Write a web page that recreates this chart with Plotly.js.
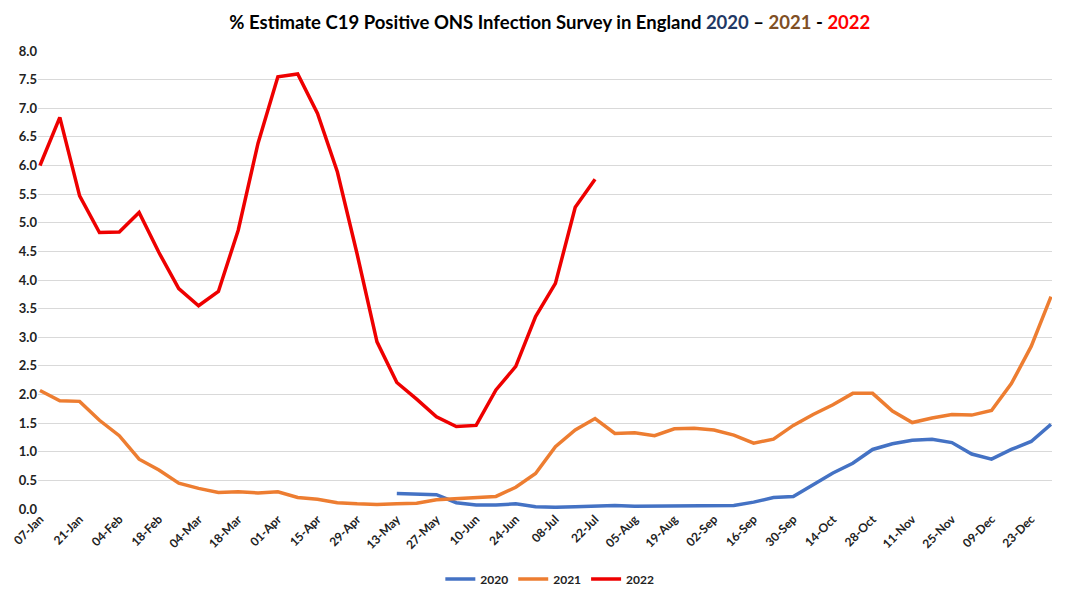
<!DOCTYPE html>
<html>
<head>
<meta charset="utf-8">
<script src="https://cdn.plot.ly/plotly-3.0.1.min.js"></script>
<style>
  html, body { margin: 0; padding: 0; background: #fff; }
  #chart { width: 1076px; height: 600px; }
</style>
</head>
<body>
<div id="chart"></div>
<script>
var weeks = ['07-Jan', '14-Jan', '21-Jan', '28-Jan', '04-Feb', '11-Feb', '18-Feb', '25-Feb',
    '04-Mar', '11-Mar', '18-Mar', '25-Mar', '01-Apr', '08-Apr', '15-Apr', '22-Apr', '29-Apr',
    '06-May', '13-May', '20-May', '27-May', '03-Jun', '10-Jun', '17-Jun', '24-Jun',
    '01-Jul', '08-Jul', '15-Jul', '22-Jul', '29-Jul', '05-Aug', '12-Aug', '19-Aug', '26-Aug',
    '02-Sep', '09-Sep', '16-Sep', '23-Sep', '30-Sep', '07-Oct', '14-Oct', '21-Oct', '28-Oct',
    '04-Nov', '11-Nov', '18-Nov', '25-Nov', '02-Dec', '09-Dec', '16-Dec', '23-Dec', '30-Dec'];

// every second week gets a label, like the original
var tickWeeks = ['07-Jan', '21-Jan', '04-Feb', '18-Feb', '04-Mar', '18-Mar', '01-Apr', '15-Apr',
    '29-Apr', '13-May', '27-May', '10-Jun', '24-Jun', '08-Jul', '22-Jul', '05-Aug', '19-Aug',
    '02-Sep', '16-Sep', '30-Sep', '14-Oct', '28-Oct', '11-Nov', '25-Nov', '09-Dec', '23-Dec'];

var pos2020 = [null, null, null, null, null, null, null, null, null, null,
    null, null, null, null, null, null, null, null,
    0.27, 0.26, 0.25, 0.11, 0.07, 0.07, 0.09, 0.04, 0.03, 0.04, 0.05, 0.06,
    0.05, 0.05, 0.05, 0.05, 0.05, 0.06, 0.12, 0.20, 0.22, 0.42, 0.63, 0.80,
    1.04, 1.14, 1.20, 1.22, 1.16, 0.96, 0.87, 1.04, 1.18, 1.48];

var pos2021 = [2.07, 1.89, 1.88, 1.55, 1.28, 0.87, 0.68, 0.45, 0.36, 0.29,
    0.30, 0.28, 0.30, 0.20, 0.17, 0.11, 0.09, 0.08, 0.09, 0.10,
    0.16, 0.18, 0.19, 0.22, 0.38, 0.62, 1.09, 1.38, 1.58, 1.32,
    1.33, 1.28, 1.40, 1.41, 1.38, 1.29, 1.15, 1.22, 1.46, 1.65,
    1.82, 2.02, 2.02, 1.71, 1.51, 1.59, 1.65, 1.64, 1.72, 2.19,
    2.84, 3.71];

var pos2022 = [6.00, 6.84, 5.47, 4.83, 4.84, 5.18, 4.48, 3.85, 3.55, 3.80,
    4.87, 6.39, 7.55, 7.60, 6.91, 5.89, 4.45, 2.92, 2.21, 1.92,
    1.61, 1.44, 1.46, 2.08, 2.49, 3.36, 3.94, 5.27, 5.76];

var trace1 = {
    x: weeks,
    y: pos2020,
    name: '2020',
    type: 'scatter',
    mode: 'lines',
    line: { color: '#4472C4', width: 3.5 }
};

var trace2 = {
    x: weeks,
    y: pos2021,
    name: '2021',
    type: 'scatter',
    mode: 'lines',
    line: { color: '#ED7D31', width: 3.5 }
};

var trace3 = {
    x: weeks.slice(0, pos2022.length),
    y: pos2022,
    name: '2022',
    type: 'scatter',
    mode: 'lines',
    line: { color: '#EE0000', width: 3.5 }
};

var data = [trace1, trace2, trace3];

var layout = {
    width: 1076,
    height: 600,
    font: { family: 'Lato, "Open Sans", sans-serif', size: 12, color: '#222' },
    title: {
        text: '% Estimate C19 Positive ONS Infection Survey in England ' +
            '<span style="color:#1F3864">2020</span> – ' +
            '<span style="color:#7F4F24">2021</span> - ' +
            '<span style="color:#FF0000">2022</span>',
        font: { family: 'Lato, sans-serif', size: 18.5, weight: 'bold', color: '#000' },
        x: 0.511,
        xanchor: 'center',
        y: 0.962,
        yanchor: 'middle'
    },
    margin: { l: 38, r: 24, t: 51, b: 91 },
    xaxis: {
        type: 'category',
        automargin: false,
        range: [-0.1, 51.05],
        tickmode: 'array',
        tickvals: tickWeeks,
        ticktext: tickWeeks,
        tickangle: -45,
        tickfont: { size: 12, weight: 'bold', color: '#222' },
        showgrid: false,
        showline: false,
        zeroline: false,
        ticks: ''
    },
    yaxis: {
        automargin: false,
        range: [0, 8],
        dtick: 0.5,
        tickformat: '.1f',
        tickfont: { size: 13, weight: 'bold', color: '#222' },
        gridcolor: '#D9D9D9',
        gridwidth: 1,
        zeroline: false,
        showline: false,
        ticks: ''
    },
    legend: {
        orientation: 'h',
        xref: 'container',
        yref: 'container',
        x: 0.511,
        xanchor: 'center',
        y: 0.035,
        yanchor: 'middle',
        font: { size: 12, weight: 'bold', color: '#222' },
        itemwidth: 30
    },
    plot_bgcolor: '#fff',
    paper_bgcolor: '#fff'
};

var config = { displayModeBar: false, staticPlot: true };

Plotly.newPlot('chart', data, layout, config);
</script>
</body>
</html>
